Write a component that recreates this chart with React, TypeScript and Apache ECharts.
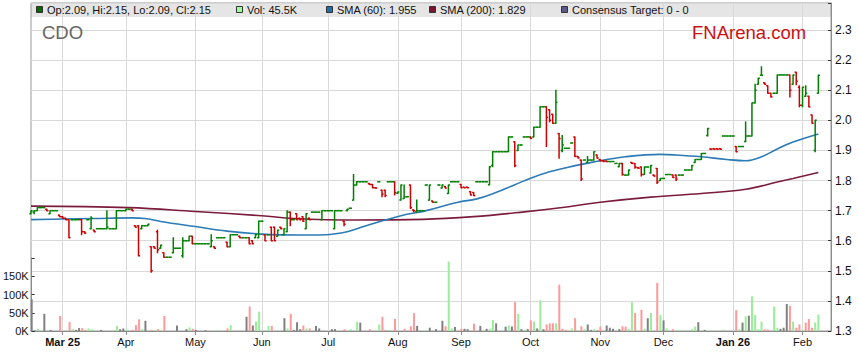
import React, { useEffect, useRef } from "react";
import * as echarts from "echarts";

// ---------- axis / tick labels ----------
const monthLabels = ["Mar 25", "Apr", "May", "Jun", "Jul", "Aug", "Sep", "Oct", "Nov", "Dec", "Jan 26", "Feb"];
const monthStarts = [10, 30, 52, 73, 94, 116, 136, 158, 180, 200, 222, 244];
const boldLabels = ["Mar 25", "Jan 26"];
const SLOT_COUNT = 254;

// ---------- OHLC (one trading day per entry) ----------
const opens = [
  1.69, 1.695, 1.70, 1.71, 1.71, 1.705, 1.69, 1.70, 1.70, 1.685,
  1.68, 1.675, 1.67, 1.67, 1.67, 1.67, 1.67, 1.63, 1.67, 1.64,
  1.635, 1.64, 1.64, 1.64, 1.64, 1.64, 1.64, 1.64, 1.70, 1.70,
  1.70, 1.705, 1.705, 1.65, 1.65, 1.64, 1.65, 1.65, 1.58, 1.58,
  1.63, 1.575, 1.56, 1.545, 1.545, 1.56, 1.575, 1.575, 1.55, 1.60,
  1.60, 1.615, 1.59, 1.59, 1.59, 1.59, 1.59, 1.58, 1.58, 1.61,
  1.61, 1.61, 1.595, 1.58, 1.62, 1.62, 1.615, 1.61, 1.61, 1.61,
  1.60, 1.61, 1.61, 1.665, 1.62, 1.62, 1.645, 1.645, 1.615, 1.645,
  1.62, 1.63, 1.695, 1.67, 1.69, 1.675, 1.68, 1.64, 1.675, 1.695,
  1.695, 1.695, 1.67, 1.70, 1.70, 1.70, 1.64, 1.70, 1.70, 1.665,
  1.70, 1.708, 1.735, 1.785, 1.796, 1.796, 1.796, 1.79, 1.787, 1.776,
  1.796, 1.768, 1.768, 1.796, 1.796, 1.796, 1.758, 1.735, 1.74, 1.746,
  1.785, 1.702, 1.696, 1.70, 1.70, 1.785, 1.735, 1.732, 1.728, 1.785,
  1.775, 1.78, 1.757, 1.796, 1.796, 1.796, 1.787, 1.778, 1.778, 1.763,
  1.76, 1.796, 1.796, 1.796, 1.796, 1.786, 1.85, 1.896, 1.896, 1.896,
  1.896, 1.896, 1.945, 1.929, 1.90, 1.918, 1.945, 1.945, 1.945, 1.945,
  1.977, 1.977, 2.045, 2.045, 2.035, 2.02, 1.99, 1.956, 1.90, 1.907,
  1.907, 1.925, 1.945, 1.88, 1.868, 1.868, 1.86, 1.868, 1.868, 1.885,
  1.87, 1.866, 1.865, 1.863, 1.863, 1.857, 1.846, 1.857, 1.818, 1.818,
  1.86, 1.857, 1.843, 1.845, 1.82, 1.845, 1.825, 1.818, 1.84, 1.80,
  1.807, 1.82, 1.82, 1.818, 1.818, 1.818, 1.818, 1.835, 1.835, 1.835,
  1.86, 1.87, 1.87, 1.89, 1.95, 1.905, 1.906, 1.906, 1.906, 1.948,
  1.948, 1.948, 1.948, 1.913, 1.913, 1.913, 1.93, 1.948, 1.948, 2.058,
  2.12, 2.15, 2.125, 2.115, 2.09, 2.09, 2.09, 2.151, 2.151, 2.151,
  2.151, 2.12, 2.16, 2.11, 2.05, 2.08, 2.08, 2.018, 1.90, 2.09,
];
const highs = [
  1.70, 1.70, 1.71, 1.71, 1.71, 1.705, 1.70, 1.70, 1.70, 1.685,
  1.68, 1.675, 1.67, 1.67, 1.67, 1.67, 1.67, 1.63, 1.67, 1.68,
  1.635, 1.64, 1.64, 1.64, 1.70, 1.64, 1.64, 1.70, 1.70, 1.70,
  1.705, 1.705, 1.705, 1.65, 1.65, 1.65, 1.65, 1.655, 1.58, 1.58,
  1.635, 1.585, 1.56, 1.545, 1.545, 1.61, 1.575, 1.575, 1.61, 1.60,
  1.615, 1.615, 1.59, 1.59, 1.59, 1.59, 1.59, 1.62, 1.58, 1.61,
  1.61, 1.61, 1.595, 1.62, 1.62, 1.62, 1.615, 1.61, 1.61, 1.61,
  1.60, 1.62, 1.665, 1.665, 1.62, 1.62, 1.645, 1.645, 1.635, 1.645,
  1.64, 1.70, 1.695, 1.67, 1.69, 1.675, 1.68, 1.69, 1.675, 1.695,
  1.695, 1.695, 1.70, 1.70, 1.70, 1.70, 1.70, 1.70, 1.70, 1.665,
  1.705, 1.708, 1.82, 1.796, 1.796, 1.796, 1.796, 1.79, 1.787, 1.776,
  1.796, 1.768, 1.768, 1.796, 1.796, 1.796, 1.762, 1.785, 1.785, 1.746,
  1.785, 1.702, 1.735, 1.70, 1.70, 1.785, 1.785, 1.732, 1.728, 1.785,
  1.785, 1.78, 1.785, 1.796, 1.796, 1.796, 1.787, 1.778, 1.778, 1.763,
  1.76, 1.796, 1.796, 1.796, 1.796, 1.846, 1.896, 1.896, 1.896, 1.896,
  1.896, 1.945, 1.945, 1.929, 1.918, 1.918, 1.945, 1.945, 1.945, 1.977,
  1.977, 2.045, 2.045, 2.045, 2.035, 2.02, 2.10, 1.956, 1.95, 1.907,
  1.907, 1.925, 1.945, 1.88, 1.868, 1.868, 1.88, 1.868, 1.896, 1.885,
  1.87, 1.866, 1.865, 1.863, 1.863, 1.857, 1.857, 1.857, 1.818, 1.835,
  1.86, 1.857, 1.843, 1.845, 1.845, 1.845, 1.85, 1.818, 1.84, 1.807,
  1.807, 1.82, 1.82, 1.818, 1.818, 1.818, 1.818, 1.835, 1.835, 1.85,
  1.87, 1.87, 1.89, 1.89, 1.973, 1.905, 1.906, 1.906, 1.906, 1.948,
  1.948, 1.948, 1.948, 1.913, 1.913, 1.913, 1.995, 1.948, 2.058, 2.12,
  2.14, 2.178, 2.125, 2.115, 2.09, 2.09, 2.151, 2.151, 2.151, 2.151,
  2.151, 2.151, 2.16, 2.115, 2.11, 2.115, 2.08, 2.018, 2.00, 2.15,
];
const lows = [
  1.69, 1.69, 1.70, 1.71, 1.71, 1.70, 1.69, 1.70, 1.70, 1.68,
  1.675, 1.67, 1.61, 1.67, 1.67, 1.67, 1.62, 1.625, 1.67, 1.64,
  1.63, 1.64, 1.64, 1.64, 1.64, 1.64, 1.64, 1.64, 1.70, 1.70,
  1.70, 1.705, 1.70, 1.645, 1.55, 1.64, 1.65, 1.65, 1.495, 1.575,
  1.56, 1.575, 1.545, 1.545, 1.545, 1.56, 1.575, 1.575, 1.545, 1.60,
  1.60, 1.59, 1.59, 1.59, 1.59, 1.59, 1.59, 1.58, 1.575, 1.61,
  1.61, 1.61, 1.58, 1.58, 1.62, 1.62, 1.61, 1.61, 1.61, 1.59,
  1.59, 1.61, 1.61, 1.665, 1.60, 1.62, 1.60, 1.60, 1.615, 1.64,
  1.62, 1.63, 1.65, 1.67, 1.67, 1.67, 1.665, 1.64, 1.67, 1.695,
  1.695, 1.695, 1.67, 1.70, 1.70, 1.70, 1.64, 1.70, 1.70, 1.65,
  1.70, 1.708, 1.735, 1.785, 1.796, 1.796, 1.796, 1.787, 1.776, 1.775,
  1.796, 1.746, 1.746, 1.796, 1.796, 1.752, 1.758, 1.735, 1.74, 1.746,
  1.707, 1.696, 1.696, 1.70, 1.70, 1.785, 1.735, 1.728, 1.728, 1.785,
  1.775, 1.775, 1.757, 1.796, 1.796, 1.796, 1.776, 1.776, 1.776, 1.752,
  1.75, 1.796, 1.796, 1.796, 1.796, 1.786, 1.846, 1.896, 1.896, 1.896,
  1.896, 1.896, 1.945, 1.846, 1.90, 1.918, 1.945, 1.945, 1.94, 1.945,
  1.977, 1.977, 2.045, 1.913, 1.995, 1.99, 1.99, 1.874, 1.896, 1.907,
  1.907, 1.925, 1.88, 1.875, 1.80, 1.868, 1.86, 1.868, 1.868, 1.875,
  1.866, 1.863, 1.863, 1.863, 1.863, 1.857, 1.846, 1.818, 1.818, 1.818,
  1.857, 1.841, 1.841, 1.815, 1.82, 1.845, 1.825, 1.815, 1.79, 1.80,
  1.807, 1.82, 1.82, 1.81, 1.80, 1.818, 1.818, 1.835, 1.835, 1.835,
  1.86, 1.87, 1.87, 1.89, 1.948, 1.904, 1.904, 1.904, 1.904, 1.948,
  1.948, 1.948, 1.948, 1.896, 1.913, 1.913, 1.929, 1.948, 1.948, 2.058,
  2.12, 2.15, 2.12, 2.09, 2.078, 2.09, 2.09, 2.151, 2.151, 2.151,
  2.078, 2.12, 2.118, 2.045, 2.045, 2.08, 2.045, 1.99, 1.896, 2.09,
];
const closes = [
  1.70, 1.70, 1.71, 1.71, 1.71, 1.70, 1.70, 1.70, 1.70, 1.68,
  1.675, 1.67, 1.61, 1.67, 1.67, 1.67, 1.63, 1.625, 1.67, 1.675,
  1.63, 1.64, 1.64, 1.64, 1.645, 1.64, 1.64, 1.70, 1.70, 1.70,
  1.705, 1.705, 1.70, 1.645, 1.55, 1.65, 1.65, 1.655, 1.50, 1.575,
  1.57, 1.585, 1.545, 1.545, 1.545, 1.575, 1.575, 1.575, 1.60, 1.60,
  1.615, 1.59, 1.59, 1.59, 1.59, 1.59, 1.59, 1.60, 1.575, 1.61,
  1.61, 1.61, 1.58, 1.62, 1.62, 1.62, 1.61, 1.61, 1.61, 1.59,
  1.59, 1.62, 1.665, 1.665, 1.60, 1.62, 1.60, 1.60, 1.635, 1.64,
  1.64, 1.695, 1.67, 1.67, 1.67, 1.67, 1.665, 1.69, 1.67, 1.695,
  1.695, 1.695, 1.70, 1.70, 1.70, 1.70, 1.70, 1.70, 1.70, 1.655,
  1.705, 1.708, 1.785, 1.796, 1.796, 1.796, 1.796, 1.787, 1.776, 1.775,
  1.796, 1.755, 1.75, 1.796, 1.796, 1.76, 1.762, 1.785, 1.746, 1.746,
  1.71, 1.70, 1.70, 1.70, 1.70, 1.785, 1.785, 1.728, 1.728, 1.785,
  1.785, 1.775, 1.785, 1.796, 1.796, 1.796, 1.776, 1.776, 1.776, 1.752,
  1.75, 1.796, 1.796, 1.796, 1.796, 1.846, 1.896, 1.896, 1.896, 1.896,
  1.896, 1.945, 1.945, 1.85, 1.918, 1.918, 1.945, 1.945, 1.94, 1.977,
  1.977, 2.045, 2.045, 2.01, 2.00, 1.99, 2.06, 1.94, 1.918, 1.907,
  1.907, 1.925, 1.88, 1.875, 1.805, 1.868, 1.868, 1.868, 1.896, 1.875,
  1.866, 1.863, 1.863, 1.863, 1.863, 1.857, 1.857, 1.82, 1.818, 1.835,
  1.857, 1.845, 1.841, 1.82, 1.845, 1.845, 1.85, 1.815, 1.795, 1.807,
  1.807, 1.82, 1.82, 1.81, 1.805, 1.818, 1.818, 1.835, 1.835, 1.85,
  1.87, 1.87, 1.89, 1.89, 1.973, 1.904, 1.904, 1.904, 1.904, 1.948,
  1.948, 1.948, 1.948, 1.896, 1.913, 1.913, 1.948, 1.948, 2.058, 2.10,
  2.14, 2.15, 2.12, 2.09, 2.078, 2.09, 2.151, 2.151, 2.151, 2.151,
  2.10, 2.151, 2.13, 2.05, 2.11, 2.09, 2.045, 1.99, 2.00, 2.15,
];

// ---------- volume (thousands of shares) ----------
const volumesK = [
  87, 2, 6, 0, 47, 0, 3, 0, 0, 41,
  0, 0, 25, 5, 3, 8, 8, 3, 7, 5,
  0, 0, 3, 0, 0, 0, 0, 14, 5, 7,
  4, 0, 3, 16, 32, 5, 28, 0, 3, 3,
  5, 3, 41, 0, 0, 0, 15, 0, 0, 5,
  10, 6, 3, 0, 0, 2, 0, 0, 0, 3,
  0, 0, 7, 16, 0, 0, 0, 0, 39, 67,
  15, 26, 53, 0, 0, 14, 14, 0, 0, 0,
  35, 7, 47, 3, 24, 5, 15, 7, 7, 0,
  14, 7, 0, 0, 0, 5, 5, 0, 0, 5,
  0, 5, 0, 25, 23, 0, 0, 5, 0, 0,
  18, 39, 3, 3, 0, 33, 0, 0, 6, 0,
  13, 49, 14, 0, 0, 3, 9, 0, 5, 0,
  28, 13, 190, 7, 11, 0, 6, 6, 5, 0,
  20, 0, 14, 0, 6, 6, 30, 21, 0, 0,
  12, 15, 12, 79, 47, 5, 3, 5, 29, 26,
  7, 84, 5, 18, 21, 21, 21, 127, 6, 3,
  0, 7, 35, 0, 13, 5, 18, 3, 5, 3,
  12, 0, 15, 9, 6, 0, 5, 13, 12, 6,
  79, 49, 0, 58, 6, 35, 49, 0, 132, 44,
  29, 7, 0, 5, 0, 3, 0, 0, 0, 5,
  12, 24, 0, 3, 3, 0, 0, 0, 0, 4,
  0, 0, 0, 57, 5, 23, 40, 42, 95, 44,
  5, 26, 5, 4, 0, 67, 9, 6, 9, 74,
  69, 26, 9, 18, 3, 23, 33, 9, 23, 45,
];

// ---------- moving averages (read at sample days) ----------
const sma60Days = [0, 10, 20, 32, 36, 41, 52, 62, 73, 85, 93, 100, 106, 117, 125, 135, 141, 147, 153, 158, 163, 169, 178, 188, 199, 204, 212, 220, 226, 231, 236, 241, 249];
const sma60Values = [1.670, 1.672, 1.674, 1.676, 1.674, 1.664, 1.647, 1.632, 1.622, 1.619, 1.620, 1.630, 1.650, 1.683, 1.700, 1.728, 1.739, 1.760, 1.786, 1.808, 1.826, 1.842, 1.862, 1.879, 1.887, 1.885, 1.879, 1.870, 1.866, 1.879, 1.905, 1.928, 1.955];
const sma200Days = [0, 31, 52, 73, 83, 103, 124, 140, 156, 170, 180, 196, 212, 226, 236, 241, 249];
const sma200Values = [1.715, 1.710, 1.697, 1.683, 1.674, 1.669, 1.671, 1.680, 1.696, 1.713, 1.728, 1.745, 1.757, 1.771, 1.795, 1.807, 1.827];

// ---------- legend texts ----------
const legendTexts = ["Op:2.09, Hi:2.15, Lo:2.09, Cl:2.15", "Vol: 45.5K", "SMA (60): 1.955", "SMA (200): 1.829", "Consensus Target: 0 - 0"];
const ticker = "CDO";
const brand = "FNArena.com";

const FONT = "Arial, 'Liberation Sans', sans-serif";
const UP = "#008000";
const DOWN = "#cc0000";
const VOL_UP = "#99ee99";
const VOL_DOWN = "#ff9999";
const VOL_FLAT = "#808080";
const GRID_LINE = "#d9d9d9";
const AXIS_LINE = "#8c8c8c";

export default function App() {
  const ref = useRef<HTMLDivElement>(null);

  useEffect(() => {
    if (!ref.current) return;
    const chart = echarts.init(ref.current, null, { renderer: "svg" });

    const categories = Array.from({ length: SLOT_COUNT }, (_, i) => String(i));
    const isMonthStart = (index: number) => monthStarts.indexOf(index) >= 0;

    const ohlc = opens.map((o, i) => [i, o, highs[i], lows[i], closes[i]]);
    const volData = volumesK.map((v, i) => {
      const prev = i > 0 ? closes[i - 1] : closes[i];
      const c = closes[i];
      const color = c > prev ? VOL_UP : c < prev ? VOL_DOWN : VOL_FLAT;
      return { value: v, itemStyle: { color } };
    });

    const legendX = [36, 236, 326, 429, 561];
    const legendGraphics: any[] = [];
    const squareColors = ["#006a00", "#99ff99", "#1f6fad", "#7a1530", "#5c5c8a"];
    legendTexts.forEach((t, k) => {
      legendGraphics.push({
        type: "rect",
        z: 10,
        shape: { x: legendX[k] + 0.5, y: 6.5, width: 6, height: 6 },
        style: { fill: squareColors[k], stroke: "#333", lineWidth: 1 },
      });
      legendGraphics.push({
        type: "text",
        z: 10,
        x: legendX[k] + 11,
        y: 10,
        style: { text: t, fill: "#111", fontSize: 11, fontFamily: FONT, verticalAlign: "middle" },
      });
    });

    const option: any = {
      animation: false,
      backgroundColor: "#ffffff",
      grid: [
        { left: 31, right: 28, top: 3, bottom: 32, show: true, borderColor: "#999", borderWidth: 1 },
        { left: 31, right: 28, top: 258, bottom: 32 },
      ],
      xAxis: [
        {
          type: "category",
          gridIndex: 0,
          data: categories,
          boundaryGap: false,
          axisLine: { lineStyle: { color: AXIS_LINE } },
          axisTick: { interval: (i: number) => isMonthStart(i), length: 4, lineStyle: { color: AXIS_LINE } },
          axisLabel: {
            interval: (i: number) => isMonthStart(i),
            margin: 5,
            color: "#111",
            fontSize: 11,
            fontFamily: FONT,
            formatter: (value: string) => {
              const k = monthStarts.indexOf(Number(value));
              if (k < 0) return "";
              const lab = monthLabels[k];
              return boldLabels.indexOf(lab) >= 0 ? `{b|${lab}}` : lab;
            },
            rich: { b: { fontWeight: "bold", fontSize: 11, fontFamily: FONT, color: "#111" } },
          },
          splitLine: { show: true, interval: (i: number) => isMonthStart(i), lineStyle: { color: GRID_LINE, width: 1 } },
        },
        {
          type: "category",
          gridIndex: 1,
          data: categories,
          boundaryGap: false,
          show: false,
        },
      ],
      yAxis: [
        {
          type: "value",
          gridIndex: 0,
          position: "right",
          min: 1.3,
          max: 2.39,
          interval: 0.1,
          axisLine: { show: true, lineStyle: { color: AXIS_LINE } },
          axisTick: { show: true, inside: true, length: 3, lineStyle: { color: "#333" } },
          axisLabel: {
            margin: 4,
            color: "#111",
            fontSize: 12,
            fontFamily: FONT,
            formatter: (v: number) => (v > 2.35 ? "" : v.toFixed(1)),
          },
          splitLine: { show: true, lineStyle: { color: GRID_LINE, width: 1 } },
        },
        {
          type: "value",
          gridIndex: 1,
          position: "left",
          min: 0,
          max: 200,
          interval: 50,
          axisLine: { show: true, lineStyle: { color: AXIS_LINE } },
          axisTick: { show: true, inside: true, length: 3, lineStyle: { color: "#333" } },
          axisLabel: {
            margin: 3,
            color: "#111",
            fontSize: 11,
            fontFamily: FONT,
            formatter: (v: number) => (v >= 200 ? "" : `${v}K`),
          },
          splitLine: { show: false },
        },
      ],
      series: [
        {
          type: "bar",
          name: "Volume",
          xAxisIndex: 1,
          yAxisIndex: 1,
          data: volData,
          barWidth: 2,
          z: 1,
        },
        {
          type: "line",
          name: "SMA (200)",
          xAxisIndex: 0,
          yAxisIndex: 0,
          data: sma200Days.map((d, k) => [d, sma200Values[k]]),
          smooth: 0.4,
          showSymbol: false,
          lineStyle: { color: "#7b1c3c", width: 1.6 },
          z: 3,
        },
        {
          type: "line",
          name: "SMA (60)",
          xAxisIndex: 0,
          yAxisIndex: 0,
          data: sma60Days.map((d, k) => [d, sma60Values[k]]),
          smooth: 0.4,
          showSymbol: false,
          lineStyle: { color: "#2c7bb6", width: 1.6 },
          z: 3,
        },
        {
          type: "custom",
          name: "OHLC",
          xAxisIndex: 0,
          yAxisIndex: 0,
          data: ohlc,
          encode: { x: 0, y: [1, 2, 3, 4] },
          z: 4,
          renderItem: (params: any, api: any) => {
            const i = api.value(0);
            const o = api.value(1);
            const h = api.value(2);
            const l = api.value(3);
            const c = api.value(4);
            const po = api.coord([i, o]);
            const ph = api.coord([i, h]);
            const pl = api.coord([i, l]);
            const pc = api.coord([i, c]);
            const x = po[0];
            const color = c >= o ? UP : DOWN;
            const st = { stroke: color, lineWidth: 1.5 };
            const t = 1.6;
            return {
              type: "group",
              children: [
                { type: "line", shape: { x1: x, y1: ph[1] - 0.5, x2: x, y2: pl[1] + 0.5 }, style: st },
                { type: "line", shape: { x1: x - t, y1: po[1], x2: x, y2: po[1] }, style: st },
                { type: "line", shape: { x1: x, y1: pc[1], x2: x + t, y2: pc[1] }, style: st },
              ],
            };
          },
        },
      ],
      graphic: [
        {
          type: "rect",
          z: -5,
          shape: { x: 31, y: 3, width: 800, height: 14 },
          style: { fill: "#e5e5e5" },
        },
        ...legendGraphics,
        {
          type: "text",
          z: 10,
          x: 42,
          y: 32,
          style: { text: ticker, fill: "#666666", fontSize: 18.5, fontFamily: FONT, verticalAlign: "middle" },
        },
        {
          type: "text",
          z: 10,
          x: 692,
          y: 32.5,
          style: { text: brand, fill: "#cc1111", fontSize: 18.5, fontFamily: FONT, verticalAlign: "middle" },
        },
      ],
    };

    chart.setOption(option);
    return () => chart.dispose();
  }, []);

  return <div ref={ref} style={{ position: "absolute", left: 0, top: 0, width: 859, height: 363 }} />;
}
